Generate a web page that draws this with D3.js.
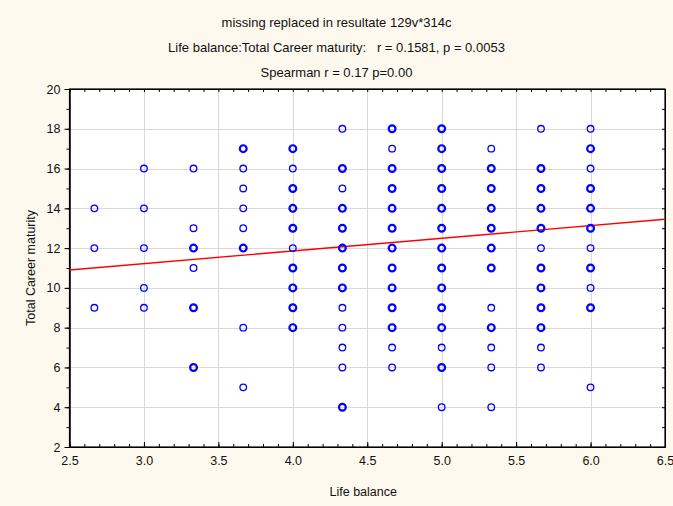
<!DOCTYPE html>
<html>
<head>
<meta charset="utf-8">
<script src="https://cdn.jsdelivr.net/npm/d3@7"></script>
<style>
  html, body { margin: 0; padding: 0; background: #FEF9EE; }
  svg { display: block; font-family: "Liberation Sans", Arial, sans-serif; }
</style>
</head>
<body>
<script>
// ---- Data ----
const titleLines = [
  "missing replaced in resultate 129v*314c",
  "Life balance:Total Career maturity:   r = 0.1581, p = 0.0053",
  "Spearman r = 0.17 p=0.00"
];
const xLabel = "Life balance";
const yLabel = "Total Career maturity";

const xTicks = [2.5, 3.0, 3.5, 4.0, 4.5, 5.0, 5.5, 6.0, 6.5];
const yTicks = [2, 4, 6, 8, 10, 12, 14, 16, 18, 20];

// Life balance levels (columns of points)
const lifeBalance = [2.667, 3.0, 3.333, 3.667, 4.0, 4.333, 4.667, 5.0, 5.333, 5.667, 6.0];
// Career maturity values observed in each column
const careerMaturity = [
  [14, 12, 9],
  [16, 14, 12, 10, 9],
  [16, 13, 12, 11, 9, 6],
  [17, 16, 15, 14, 13, 12, 8, 5],
  [17, 16, 15, 14, 13, 12, 11, 10, 9, 8],
  [18, 16, 15, 14, 13, 12, 11, 10, 9, 8, 7, 6, 4],
  [18, 17, 16, 15, 14, 13, 12, 11, 10, 9, 8, 7, 6],
  [18, 17, 16, 15, 14, 13, 12, 11, 10, 9, 8, 7, 6, 4],
  [17, 16, 15, 14, 13, 12, 11, 9, 8, 7, 6, 4],
  [18, 16, 15, 14, 13, 12, 11, 10, 9, 8, 7, 6],
  [18, 17, 16, 15, 14, 13, 12, 11, 10, 9, 5]
];
// how many cases overlap at each point (1 = single, 2 = several)
const overlapCount = [
  [1, 1, 1],
  [1, 1, 1, 1, 1],
  [1, 1, 2, 1, 2, 2],
  [2, 1, 1, 1, 1, 2, 1, 1],
  [2, 1, 2, 2, 2, 1, 2, 2, 2, 2],
  [1, 2, 1, 2, 2, 2, 2, 2, 1, 1, 1, 1, 2],
  [2, 1, 2, 2, 2, 2, 2, 2, 2, 2, 2, 1, 1],
  [2, 2, 2, 2, 2, 2, 2, 2, 2, 2, 2, 1, 2, 1],
  [1, 2, 2, 2, 2, 2, 2, 1, 2, 1, 1, 1],
  [1, 2, 2, 2, 2, 1, 2, 2, 2, 2, 1, 1],
  [1, 2, 1, 2, 2, 2, 1, 2, 1, 2, 1]
];
// linear fit endpoints (x, y)
const fitX = [2.5, 6.5];
const fitY = [10.9, 13.45];

// ---- Drawing ----
const W = 673, H = 506;
const plot = { left: 69.5, right: 665, top: 89, bottom: 447 };

const svg = d3.select("body").append("svg").attr("width", W).attr("height", H);
svg.append("rect").attr("width", W).attr("height", H).attr("fill", "#FEF9EE");

const x = d3.scaleLinear().domain([2.5, 6.5]).range([plot.left, plot.right]);
const y = d3.scaleLinear().domain([2, 20]).range([plot.bottom, plot.top]);

svg.append("rect")
  .attr("x", plot.left).attr("y", plot.top)
  .attr("width", plot.right - plot.left).attr("height", plot.bottom - plot.top)
  .attr("fill", "#ffffff");

// grid
const grid = svg.append("g").attr("stroke", "#d9d9d9").attr("stroke-width", 1);
grid.selectAll(".gx").data(xTicks.slice(1, -1)).join("line")
  .attr("x1", d => Math.round(x(d)) + 0.5).attr("x2", d => Math.round(x(d)) + 0.5)
  .attr("y1", plot.top).attr("y2", plot.bottom);
grid.selectAll(".gy").data(yTicks.slice(1, -1)).join("line")
  .attr("y1", d => Math.round(y(d)) + 0.5).attr("y2", d => Math.round(y(d)) + 0.5)
  .attr("x1", plot.left).attr("x2", plot.right);

// axes
const minorX = d3.range(25, 66).map(v => v / 10);
const minorY = d3.range(2, 21);
const fmtX = d3.format(".1f");

const bottomAxis = d3.axisBottom(x).tickValues(xTicks).tickFormat(fmtX).tickSizeInner(-5).tickSizeOuter(0).tickPadding(9);
const gb = svg.append("g").attr("transform", `translate(0,${plot.bottom})`).call(bottomAxis);
gb.selectAll("text").attr("font-size", 12.5).attr("fill", "#111");
gb.append("g").call(d3.axisBottom(x).tickValues(minorX).tickFormat("").tickSizeInner(-3).tickSizeOuter(0));

const topAxis = d3.axisTop(x).tickValues(minorX).tickFormat("").tickSizeInner(-3).tickSizeOuter(0);
svg.append("g").attr("transform", `translate(0,${plot.top})`).call(topAxis);

const leftAxis = d3.axisLeft(y).tickValues(yTicks).tickSizeInner(5).tickSizeOuter(0).tickPadding(4);
const gl = svg.append("g").attr("transform", `translate(${plot.left},0)`).call(leftAxis);
gl.selectAll("text").attr("font-size", 12.5).attr("fill", "#111");
gl.append("g").call(d3.axisLeft(y).tickValues(minorY).tickFormat("").tickSizeInner(3).tickSizeOuter(0));

const rightAxis = d3.axisRight(y).tickValues(minorY).tickFormat("").tickSizeInner(-3).tickSizeOuter(0);
svg.append("g").attr("transform", `translate(${plot.right},0)`).call(rightAxis);

svg.selectAll(".domain").attr("stroke", "#000");
svg.selectAll(".tick line").attr("stroke", "#000");

// frame
svg.append("rect")
  .attr("x", plot.left).attr("y", plot.top)
  .attr("width", plot.right - plot.left).attr("height", plot.bottom - plot.top)
  .attr("fill", "none").attr("stroke", "#000").attr("stroke-width", 1.2);

// fit line
svg.append("line")
  .attr("x1", x(fitX[0])).attr("y1", y(fitY[0]))
  .attr("x2", x(fitX[1])).attr("y2", y(fitY[1]))
  .attr("stroke", "#ff0000").attr("stroke-width", 1.4);

// points
const pts = [];
lifeBalance.forEach((lb, i) => {
  careerMaturity[i].forEach((cm, j) => pts.push({ x: lb, y: cm, n: overlapCount[i][j] }));
});
svg.append("g").selectAll("circle").data(pts).join("circle")
  .attr("cx", d => x(d.x)).attr("cy", d => y(d.y))
  .attr("r", d => d.n > 1 ? 3.4 : 3.3)
  .attr("fill", "none").attr("stroke", "#0000ff")
  .attr("stroke-width", d => d.n > 1 ? 2.2 : 1.3);

// titles
svg.append("g").selectAll("text").data(titleLines).join("text")
  .attr("x", W / 2).attr("y", (d, i) => 27 + i * 25)
  .attr("text-anchor", "middle").attr("font-size", 13).attr("fill", "#111")
  .style("white-space", "pre")
  .text(d => d);

// axis titles
svg.append("text").attr("x", (plot.left + plot.right) / 2 - 4).attr("y", 496)
  .attr("text-anchor", "middle").attr("font-size", 12.5).attr("fill", "#111").text(xLabel);
svg.append("text").attr("transform", `translate(35,${(plot.top + plot.bottom) / 2}) rotate(-90)`)
  .attr("text-anchor", "middle").attr("font-size", 12.5).attr("fill", "#111").text(yLabel);
</script>
</body>
</html>
